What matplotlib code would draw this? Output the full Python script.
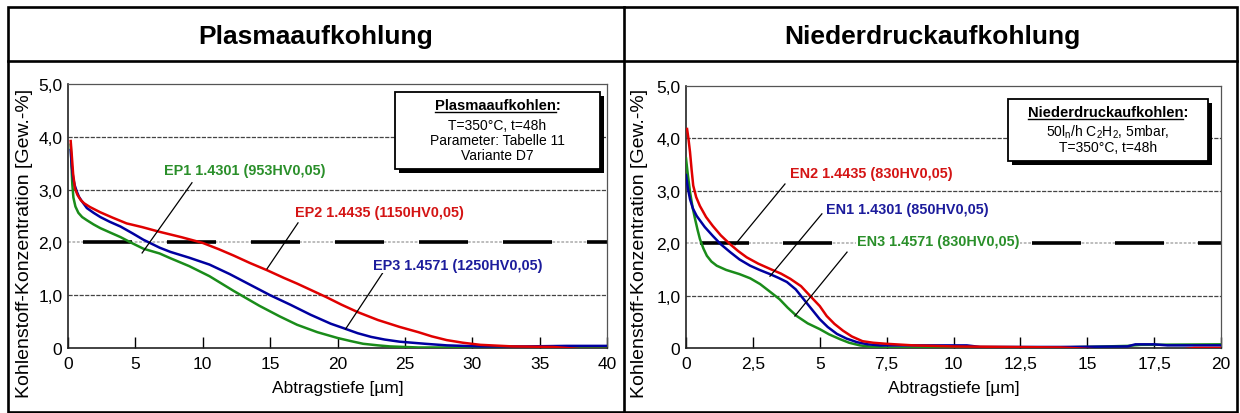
import matplotlib
matplotlib.use("Agg")
import matplotlib.pyplot as plt
from matplotlib.patches import Rectangle
from matplotlib.lines import Line2D

plt.rcParams['font.family'] = ['Liberation Sans', 'DejaVu Sans']
plt.rcParams['mathtext.fontset'] = 'custom'
plt.rcParams['mathtext.rm'] = 'Liberation Sans'
plt.rcParams['lines.scale_dashes'] = False

W, H = 1240, 414

# ---------------- data ----------------
panel_titles = ["Plasmaaufkohlung", "Niederdruckaufkohlung"]
x_label = "Abtragstiefe [µm]"
y_label = "Kohlenstoff-Konzentration [Gew.-%]"
y_ticks = [0, 1, 2, 3, 4, 5]
y_ticklabels = ["0", "1,0", "2,0", "3,0", "4,0", "5,0"]

left_xticks = [0, 5, 10, 15, 20, 25, 30, 35, 40]
left_xticklabels = ["0", "5", "10", "15", "20", "25", "30", "35", "40"]
right_xticks = [0, 2.5, 5, 7.5, 10, 12.5, 15, 17.5, 20]
right_xticklabels = ["0", "2,5", "5", "7,5", "10", "12,5", "15", "17,5", "20"]

# Plasma (left)
ep2_x = [0.2, 0.28, 0.38, 0.52, 0.7, 0.95, 1.2, 1.63, 2.4, 3.3, 4.35, 5.5, 6.8, 8.4, 10.0,
         11.2, 12.3, 13.5, 14.8, 16.0, 17.0, 18.1, 19.2, 20.3, 21.5, 23.0, 24.6, 26.0, 27.0,
         28.1, 29.3, 30.6, 33.0, 36.0, 38.0, 40.0]
ep2_y = [3.92, 3.65, 3.3, 3.02, 2.9, 2.8, 2.74, 2.67, 2.57, 2.47, 2.36, 2.29, 2.2, 2.1, 1.99,
         1.87, 1.75, 1.61, 1.47, 1.33, 1.22, 1.09, 0.96, 0.82, 0.68, 0.53, 0.4, 0.3, 0.22,
         0.15, 0.1, 0.06, 0.03, 0.02, -0.02, -0.02]
ep3_x = [0.2, 0.28, 0.38, 0.5, 0.64, 0.82, 1.0, 1.4, 1.9, 2.4, 3.1, 3.9, 4.8, 5.6, 6.8, 7.6,
         9.0, 10.5, 12.0, 13.5, 15.0, 16.5, 18.0, 19.5, 20.4, 21.5, 22.5, 23.5, 24.6, 26.5,
         28.1, 30.6, 34.0, 37.0, 40.0]
ep3_y = [3.75, 3.45, 3.22, 3.08, 2.97, 2.86, 2.79, 2.65, 2.56, 2.48, 2.39, 2.3, 2.17, 2.05,
         1.9, 1.82, 1.71, 1.58, 1.4, 1.2, 1.0, 0.82, 0.63, 0.46, 0.38, 0.28, 0.21, 0.16, 0.12,
         0.08, 0.05, 0.03, 0.03, 0.04, 0.04]
ep1_x = [0.2, 0.26, 0.32, 0.4, 0.55, 0.77, 1.05, 1.4, 1.9, 2.4, 3.1, 3.9, 4.8, 5.6, 6.8, 7.6,
         9.0, 10.5, 12.3, 14.2, 15.7, 17.0, 18.5, 20.0, 21.0, 21.9, 23.0, 23.9, 26.0, 30.0,
         35.0, 40.0]
ep1_y = [3.85, 3.45, 3.1, 2.85, 2.68, 2.56, 2.48, 2.42, 2.34, 2.27, 2.19, 2.1, 1.98, 1.88,
         1.79, 1.7, 1.55, 1.36, 1.08, 0.8, 0.6, 0.44, 0.3, 0.19, 0.13, 0.08, 0.05, 0.03, 0.01,
         0.01, 0.0, 0.0]

# Niederdruck (right)
en2_x = [0.04, 0.09, 0.15, 0.21, 0.27, 0.38, 0.52, 0.75, 1.0, 1.3, 1.65, 1.95, 2.27, 2.7,
         3.14, 3.55, 3.9, 4.3, 4.63, 5.0, 5.26, 5.55, 5.87, 6.2, 6.6, 7.0, 7.5, 8.5, 10.0, 12.0,
         14.0, 15.5, 17.0, 18.5, 19.0, 20.0]
en2_y = [4.18, 4.0, 3.74, 3.4, 3.1, 2.88, 2.71, 2.5, 2.33, 2.15, 1.98, 1.85, 1.73, 1.61,
         1.51, 1.42, 1.32, 1.18, 1.0, 0.8, 0.61, 0.46, 0.33, 0.22, 0.13, 0.1, 0.08, 0.05, 0.03,
         0.02, 0.01, -0.03, -0.03, -0.03, 0.0, 0.0]
en1_x = [0.0, 0.07, 0.15, 0.26, 0.4, 0.7, 1.0, 1.3, 1.65, 2.0, 2.4, 2.75, 3.14, 3.45, 3.77,
         4.1, 4.4, 4.7, 5.0, 5.3, 5.64, 6.0, 6.4, 6.8, 7.25, 8.5, 10.5, 11.0, 14.0, 16.5, 16.8,
         17.5, 18.0, 20.0]
en1_y = [3.3, 3.05, 2.84, 2.66, 2.52, 2.31, 2.14, 1.98, 1.83, 1.69, 1.57, 1.49, 1.41, 1.34,
         1.26, 1.12, 0.93, 0.74, 0.55, 0.4, 0.27, 0.18, 0.11, 0.07, 0.05, 0.05, 0.05, 0.02,
         0.02, 0.03, 0.07, 0.07, 0.05, 0.05]
en3_x = [0.0, 0.07, 0.15, 0.24, 0.34, 0.43, 0.52, 0.65, 0.78, 0.95, 1.15, 1.5, 2.0, 2.4,
         2.77, 3.1, 3.5, 3.8, 4.14, 4.55, 5.0, 5.35, 5.75, 6.1, 6.5, 7.0, 7.5, 10.0, 14.0,
         16.5, 17.0, 20.0]
en3_y = [3.62, 3.3, 2.98, 2.7, 2.46, 2.26, 2.08, 1.9, 1.76, 1.65, 1.57, 1.49, 1.41, 1.33,
         1.22, 1.09, 0.93, 0.77, 0.61, 0.47, 0.36, 0.26, 0.17, 0.1, 0.05, 0.02, 0.01, 0.0, 0.01,
         0.04, 0.06, 0.07]

left_labels = ["EP1 1.4301 (953HV0,05)", "EP2 1.4435 (1150HV0,05)", "EP3 1.4571 (1250HV0,05)"]
left_label_pos = [(13.14, 3.37), (23.08, 2.58), (28.9, 1.57)]
left_leaders = [((9.2, 3.13), (5.5, 1.8)), ((17.07, 2.37), (14.77, 1.5)), ((23.4, 1.44), (20.6, 0.36))]
right_labels = ["EN2 1.4435 (830HV0,05)", "EN1 1.4301 (850HV0,05)", "EN3 1.4571 (830HV0,05)"]
right_label_pos = [(6.92, 3.34), (8.27, 2.65), (9.42, 2.04)]
right_leaders = [((3.70, 3.13), (1.83, 1.97)), ((5.08, 2.56), (3.14, 1.37)), ((6.02, 1.83), (4.07, 0.61))]

left_box = ["Plasmaaufkohlen", "T=350°C, t=48h", "Parameter: Tabelle 11", "Variante D7"]
right_box = ["Niederdruckaufkohlen",
             r"50l$_\mathregular{n}$/h C$_\mathregular{2}$H$_\mathregular{2}$, 5mbar,",
             "T=350°C, t=48h"]

RED, BLUE, GREEN = '#e00000', '#0000a0', '#1a8c1a'
TRED, TBLUE, TGREEN = '#d41414', '#1c1c9c', '#2a8f2a'

# ---------------- figure ----------------
fig = plt.figure(figsize=(W / 100, H / 100), dpi=100)


def fx(px):
    return px / W


def fy(py):
    return 1 - py / H


frame_lw = 1.9
fig.add_artist(Rectangle((fx(8), fy(413)), fx(1237) - fx(8), fy(8) - fy(413),
                         transform=fig.transFigure, fill=False, lw=frame_lw, ec='black'))
fig.add_artist(Line2D([fx(8), fx(1237)], [fy(62), fy(62)], transform=fig.transFigure,
                      lw=frame_lw, color='black'))
fig.add_artist(Line2D([fx(624), fx(624)], [fy(8), fy(413)], transform=fig.transFigure,
                      lw=frame_lw, color='black'))

fig.text(fx(316), fy(37), panel_titles[0], ha='center', va='center', fontsize=19, fontweight='bold')
fig.text(fx(932), fy(37), panel_titles[1], ha='center', va='center', fontsize=19, fontweight='bold')

axL = fig.add_axes([fx(68), fy(349), fx(607) - fx(68), fy(85) - fy(349)])
axR = fig.add_axes([fx(686), fy(349), fx(1221) - fx(686), fy(87) - fy(349)])


def style_axis(ax, xmax, xticks, xticklabels, period_px, start_gap_px):
    ax.set_xlim(0, xmax)
    ax.set_ylim(0, 5)
    ax.set_xticks(xticks)
    ax.set_xticklabels(xticklabels)
    ax.set_yticks(y_ticks)
    ax.set_yticklabels(y_ticklabels)
    ax.tick_params(axis='x', direction='in', length=8, width=1, pad=6, labelsize=12.5,
                   top=False)
    ax.tick_params(axis='y', length=0, pad=4, labelsize=12.5)
    for s in ['left', 'bottom']:
        ax.spines[s].set_linewidth(1.2)
        ax.spines[s].set_color('#222222')
    for s in ['top', 'right']:
        ax.spines[s].set_linewidth(0.9)
        ax.spines[s].set_color('#555555')
    for yv in [1, 3, 4]:
        ax.axhline(yv, color='#444444', lw=0.9, ls=(0, (3, 1)), zorder=1)
    ax.axhline(2, color='#b8b8b8', lw=1.3, ls=(0, (2, 1.2)), zorder=1)
    on = 49 * 0.72
    off = (period_px - 49) * 0.72
    offset = (period_px - start_gap_px) * 0.72
    ax.axhline(2, color='black', lw=2.6, ls=(offset, (on, off)), zorder=1.5)
    ax.set_xlabel(x_label, fontsize=12.5, labelpad=6)
    ax.patch.set_alpha(0)


style_axis(axL, 40, left_xticks, left_xticklabels, 84, 15)
style_axis(axR, 20, right_xticks, right_xticklabels, 83, 14)

lw = 1.8
axL.plot(ep1_x, ep1_y, color=GREEN, lw=lw, zorder=3)
axL.plot(ep3_x, ep3_y, color=BLUE, lw=lw, zorder=3)
axL.plot(ep2_x, ep2_y, color=RED, lw=lw, zorder=3)
axR.plot(en3_x, en3_y, color=GREEN, lw=lw, zorder=3)
axR.plot(en1_x, en1_y, color=BLUE, lw=lw, zorder=3)
axR.plot(en2_x, en2_y, color=RED, lw=lw, zorder=3)

for ax, labels, pos, leaders, cols in [
        (axL, left_labels, left_label_pos, left_leaders, [TGREEN, TRED, TBLUE]),
        (axR, right_labels, right_label_pos, right_leaders, [TRED, TBLUE, TGREEN])]:
    for lab, (tx, ty), ((x0, y0), (x1, y1)), c in zip(labels, pos, leaders, cols):
        ax.plot([x0, x1], [y0, y1], color='black', lw=0.9, zorder=4)
        ax.text(tx, ty, lab, color=c, fontsize=10.4, fontweight='bold', ha='center', va='center',
                zorder=5, bbox=dict(boxstyle='square,pad=0.05', fc='white', ec='none'))

fig.text(fx(25), fy(243), y_label, rotation=90, ha='center', va='center', fontsize=14)
fig.text(fx(640), fy(243), y_label, rotation=90, ha='center', va='center', fontsize=14)


def info_box(x0, y0, x1, y1, lines, line_y):
    sh = 4
    fig.add_artist(Rectangle((fx(x0 + sh), fy(y1 + sh)), fx(x1) - fx(x0), fy(y0) - fy(y1),
                             transform=fig.transFigure, fc='black', ec='black', lw=0, zorder=6))
    fig.add_artist(Rectangle((fx(x0), fy(y1)), fx(x1) - fx(x0), fy(y0) - fy(y1),
                             transform=fig.transFigure, fc='white', ec='black', lw=1.3, zorder=7))
    cx = (x0 + x1) / 2
    t = fig.text(fx(cx), fy(line_y[0]), lines[0] + ":", ha='center', va='center', fontsize=10.6,
                 fontweight='bold', zorder=8)
    for ln, ly in zip(lines[1:], line_y[1:]):
        fig.text(fx(cx), fy(ly), ln, ha='center', va='center', fontsize=10, zorder=8)
    return t, cx, line_y[0]


boxes = [info_box(395, 93, 600, 170, left_box, [106, 126, 141, 156]),
         info_box(1008, 100, 1208, 162, right_box, [113, 132, 148])]

fig.canvas.draw()
r = fig.canvas.get_renderer()
for t, cx, ly in boxes:
    bb = t.get_window_extent(r)
    tmp = fig.text(0, 0, ":", fontsize=10.6, fontweight='bold')
    cw = tmp.get_window_extent(r).width
    tmp.remove()
    uy = H - (ly + 7)
    fig.add_artist(Line2D([bb.x0 / W, (bb.x1 - cw) / W], [uy / H, uy / H],
                          transform=fig.transFigure, color='black', lw=1.0, zorder=9))

fig.savefig("out.png", dpi=100)
